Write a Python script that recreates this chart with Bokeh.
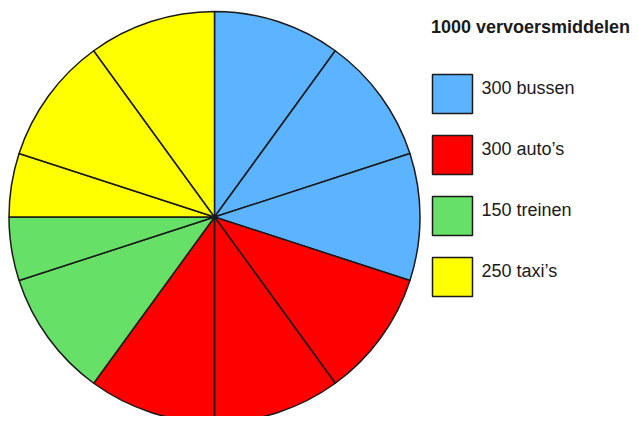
import math
from bokeh.plotting import figure
from bokeh.models import Range1d, ColumnDataSource
from bokeh.core.properties import value
from bokeh.embed import file_html
from bokeh.resources import INLINE

# ---- data ----
names = ["bussen", "auto\u2019s", "treinen", "taxi\u2019s"]
counts = [300, 300, 150, 250]
colors = ["#5CB3FF", "#FF0000", "#66E066", "#FFFF00"]
unit = 100  # pie is divided in pieces of 100 vehicles

total = sum(counts)
title_text = f"{total} vervoersmiddelen"
labels = [f"{c} {n}" for c, n in zip(counts, names)]

W, H = 630, 416

p = figure(width=W, height=H, output_backend="svg", toolbar_location=None,
           x_range=Range1d(0, W), y_range=Range1d(0, H),
           min_border=0, outline_line_color=None)
p.axis.visible = False
p.grid.visible = False
p.background_fill_color = "white"

def dy(screen_y):
    return H - screen_y

# ---- pie pieces: split categories on the 100-unit grid ----
cx, cy, r = 214, dy(216.5), 205.5
starts, ends, cols = [], [], []
cum = 0
for c, col in zip(counts, colors):
    a, b = cum, cum + c
    cuts = [a] + [k for k in range((a // unit + 1) * unit, b, unit)] + [b]
    for s, e in zip(cuts[:-1], cuts[1:]):
        starts.append(math.radians(90 - s * 360 / total))
        ends.append(math.radians(90 - e * 360 / total))
        cols.append(col)
    cum = b

src = ColumnDataSource(dict(start=starts, end=ends, color=cols))
p.wedge(x=cx, y=cy, radius=r, start_angle="start", end_angle="end",
        direction="clock", fill_color="color", line_color="#1a1a1a",
        line_width=1.5, source=src)

# ---- legend ----
box_tops = [74, 135, 196, 257]
bx, bw, bh = 452, 40, 39
p.rect(x=[bx] * 4, y=[dy(t + bh / 2) for t in box_tops], width=bw, height=bh,
       fill_color=colors, line_color="#1a1a1a", line_width=1.5)
p.text(x=[481] * 4, y=[dy(t + 13.3) for t in box_tops], text=labels,
       text_font=value("Liberation Sans"), text_font_size="18px",
       text_color="#1a1a1a", text_baseline="alphabetic", text_align="left")

p.text(x=[430.5], y=[dy(26.3)], text=[title_text],
       text_font=value("Liberation Sans"), text_font_size="18px",
       text_font_style="bold", text_color="#1a1a1a",
       text_baseline="alphabetic", text_align="left")

open("out.html", "w").write(file_html(p, INLINE))
